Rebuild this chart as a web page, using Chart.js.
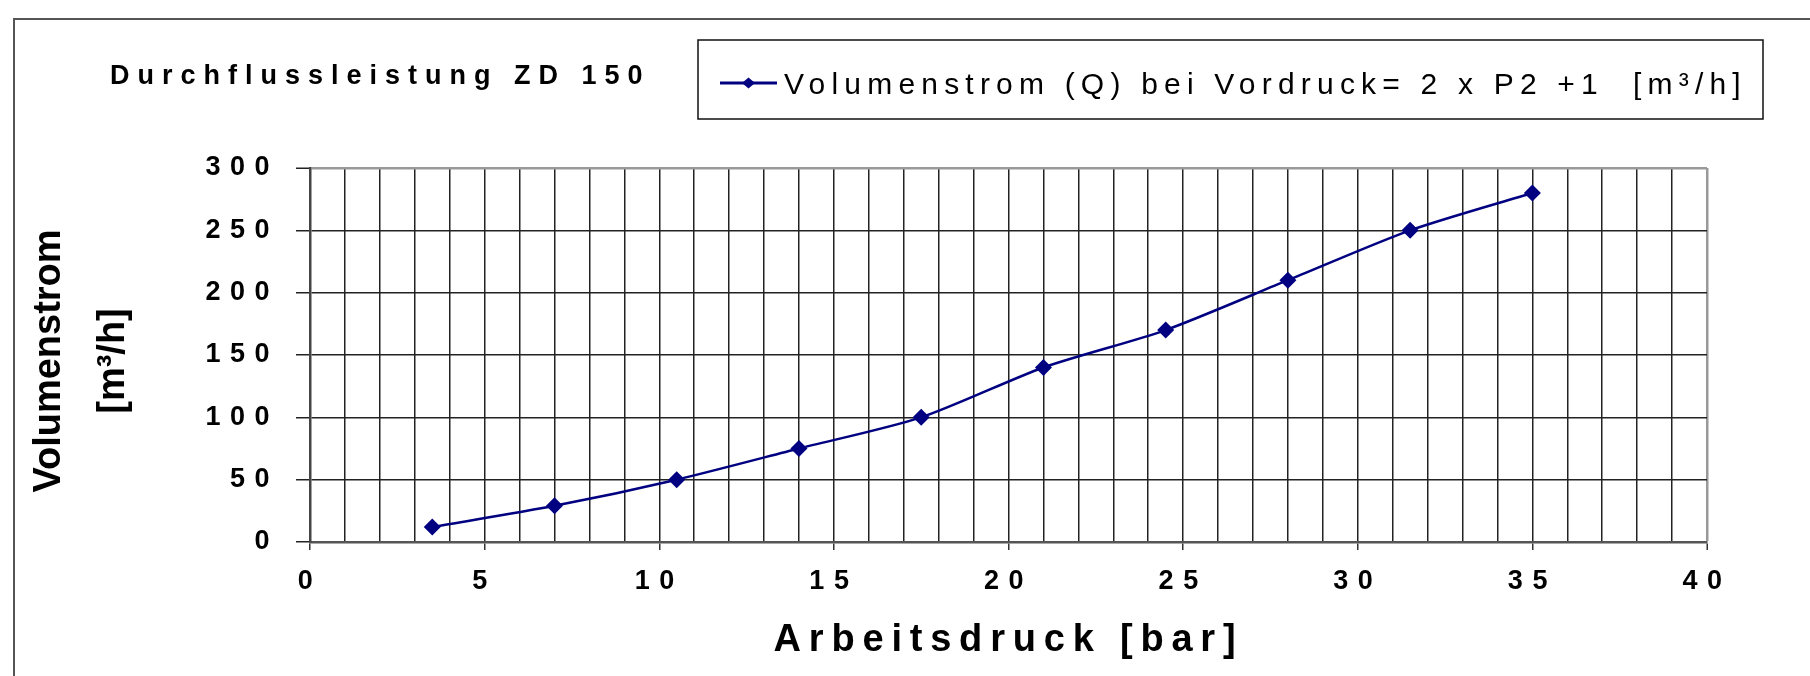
<!DOCTYPE html>
<html>
<head>
<meta charset="utf-8">
<script src="https://cdn.jsdelivr.net/npm/chart.js"></script>
<style>
  html, body { margin: 0; padding: 0; background: #fff; }
  canvas { display: block; }
</style>
</head>
<body>
<canvas id="c" width="1810" height="676"></canvas>
<script>
// ---- data ----
const chartTitle = 'Durchflussleistung ZD 150';
const seriesLabel = 'Volumenstrom (Q) bei Vordruck= 2 x P2 +1  [m³/h]';
const xAxisTitle = 'Arbeitsdruck [bar]';
const yAxisTitle = ['Volumenstrom', '[m³/h]'];
const pressureBar = [3.5, 7, 10.5, 14, 17.5, 21, 24.5, 28, 31.5, 35];
const flowM3h = [12, 29, 50, 75, 100, 140, 170, 210, 250, 280];
const xTickLabels = [0, 5, 10, 15, 20, 25, 30, 35, 40];
const yTickLabels = [0, 50, 100, 150, 200, 250, 300];

const FONT = "'Liberation Sans', Arial, sans-serif";
const NAVY = '#000080';

const framePlugin = {
  id: 'framePlugin',
  beforeDraw(chart) {
    const ctx = chart.ctx;
    ctx.save();
    ctx.fillStyle = '#fff';
    ctx.fillRect(0, 0, chart.width, chart.height);
    ctx.strokeStyle = '#555';
    ctx.lineWidth = 2;
    ctx.beginPath();
    ctx.moveTo(14, chart.height);
    ctx.lineTo(14, 19);
    ctx.lineTo(chart.width, 19);
    ctx.stroke();
    ctx.restore();
    // letter spacing for tick labels
    ctx.letterSpacing = '9.5px';
    const spacing = { x: { ls: '7.8px', dy: 0 }, y: { ls: '0px', dy: 6 } };
    for (const id of Object.keys(spacing)) {
      const s = chart.scales[id];
      if (s && !s.__lsWrapped) {
        const orig = s.drawTitle;
        s.drawTitle = function (...args) {
          const c = this.ctx;
          const prev = c.letterSpacing;
          c.save();
          c.translate(0, spacing[id].dy);
          c.letterSpacing = spacing[id].ls;
          orig.apply(this, args);
          c.restore();
          c.letterSpacing = prev;
        };
        s.__lsWrapped = true;
      }
    }
  },
  afterDraw(chart) {
    const ctx = chart.ctx;
    ctx.save();
    // chart title
    ctx.letterSpacing = '8px';
    ctx.font = 'bold 27px ' + FONT;
    ctx.fillStyle = '#000';
    ctx.textAlign = 'left';
    ctx.textBaseline = 'alphabetic';
    ctx.fillText(chartTitle, 110, 84);
    // legend box
    ctx.letterSpacing = '0px';
    ctx.strokeStyle = '#111';
    ctx.lineWidth = 1.5;
    ctx.strokeRect(698, 40, 1065, 79);
    // legend marker
    ctx.strokeStyle = NAVY;
    ctx.lineWidth = 3;
    ctx.beginPath();
    ctx.moveTo(720, 83);
    ctx.lineTo(777, 83);
    ctx.stroke();
    ctx.fillStyle = NAVY;
    ctx.beginPath();
    ctx.moveTo(748.5 - 6.5, 83);
    ctx.lineTo(748.5, 83 - 5.5);
    ctx.lineTo(748.5 + 6.5, 83);
    ctx.lineTo(748.5, 83 + 5.5);
    ctx.closePath();
    ctx.fill();
    // legend text
    ctx.letterSpacing = '6.2px';
    ctx.font = '30px ' + FONT;
    ctx.fillStyle = '#000';
    ctx.textBaseline = 'alphabetic';
    ctx.fillText(chart.data.datasets[0].label, 784, 94);
    ctx.restore();
  }
};

const points = pressureBar.map((x, i) => ({ x: x, y: flowM3h[i] }));

new Chart(document.getElementById('c'), {
  type: 'line',
  data: {
    datasets: [{
      label: seriesLabel,
      data: points,
      borderColor: NAVY,
      backgroundColor: NAVY,
      borderWidth: 2.5,
      tension: 0.25,
      pointStyle: 'rectRot',
      pointRadius: 8.5,
      pointBorderWidth: 0,
      pointBackgroundColor: NAVY,
      fill: false
    }]
  },
  options: {
    responsive: false,
    animation: false,
    devicePixelRatio: 1,
    layout: { padding: { left: 0, right: 103, top: 168, bottom: 0 } },
    plugins: {
      legend: { display: false },
      title: { display: false },
      tooltip: { enabled: false }
    },
    scales: {
      x: {
        type: 'linear',
        min: 0,
        max: 40,
        afterFit: s => { s.height = 134; },
        ticks: {
          stepSize: 1,
          autoSkip: false,
          maxRotation: 0,
          padding: 15,
          color: '#000',
          font: { family: FONT, size: 27, weight: 'bold' },
          callback: v => xTickLabels.includes(v) ? String(v) : ''
        },
        grid: {
          color: c => (c.tick && c.tick.value === 40) ? '#999' : '#222',
          lineWidth: c => (c.tick && c.tick.value === 40) ? 2.5 : 1.5,
          tickLength: 8,
          tickWidth: 1.5,
          tickColor: c => (c.tick && xTickLabels.includes(c.tick.value)) ? '#333' : 'rgba(0,0,0,0)'
        },
        border: { color: '#555', width: 2.5 },
        title: {
          display: true,
          text: xAxisTitle,
          color: '#000',
          font: { family: FONT, size: 38, weight: 'bold' },
          padding: { top: 0, bottom: 13 }
        }
      },
      y: {
        type: 'linear',
        min: 0,
        max: 300,
        afterFit: s => { s.width = 310; },
        ticks: {
          stepSize: 50,
          padding: 17,
          color: '#000',
          font: { family: FONT, size: 27, weight: 'bold' },
          callback: v => yTickLabels.includes(v) ? String(v) : ''
        },
        grid: {
          color: c => (c.tick && c.tick.value === 300) ? '#999' : '#222',
          lineWidth: c => (c.tick && c.tick.value === 300) ? 2.5 : 1.5,
          tickLength: 14,
          tickWidth: 1.5,
          tickColor: '#222'
        },
        border: { color: '#444', width: 2.5 },
        title: {
          display: true,
          text: yAxisTitle,
          color: '#000',
          font: { family: FONT, size: 38, weight: 'bold', lineHeight: 1.7 },
          padding: { top: 17, bottom: 0 }
        }
      }
    }
  },
  plugins: [framePlugin]
});
</script>
</body>
</html>
